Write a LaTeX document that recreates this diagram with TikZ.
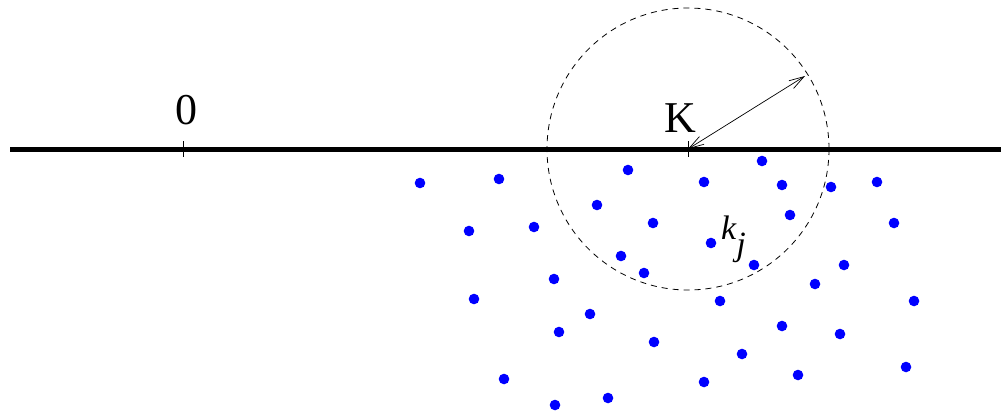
\documentclass[tikz,border=0pt]{standalone}
\usepackage{fontspec}
\setmainfont{Liberation Serif}
\usetikzlibrary{arrows.meta}

\begin{document}
\begin{tikzpicture}[x=1pt,y=-1pt,
    dot/.style={fill=blue},
    ball/.style={dash pattern=on 6pt off 5pt,line width=0.8pt},
    marker/.style={line width=0.9pt},
    biglabel/.style={font=\fontsize{44}{50}\selectfont,inner sep=0pt}]
  \useasboundingbox (0,0) rectangle (1001,413);
  \coordinate (origin) at (183,149);
  \coordinate (centre) at (688,149);
  \coordinate (rim) at (805,76);
  \draw[line width=5pt] (10,149) -- (1001,149);
  \draw[marker] (183,141) -- (183,157);
  \draw[marker] (688,141) -- (688,157);
  \node[biglabel] (zero) at (186,110) {0};
  \node[biglabel] (kay) at (680,118) {K};
  \draw[ball] (centre) circle (141);
  \draw[{Straight Barb[length=15pt,width=9pt]}-{Straight Barb[length=15pt,width=9pt]},line width=0.7pt]
    (centre) -- (rim);
  % sample points
  \foreach \x/\y in {420/183, 499/179, 628/170, 597/205, 469/231, 534/227, 653/223,
      621/256, 644/273, 554/279, 762/161, 704/182, 782/185, 831/187, 877/182,
      790/215, 894/223, 711/243, 754/265, 844/265, 474/299, 590/314, 559/332,
      654/342, 504/379, 555/405, 608/398, 815/284, 720/301, 914/301, 782/326,
      840/334, 742/354, 704/382, 798/375, 906/367}
    \fill[dot] (\x,\y) circle (5.3);
  \node[font=\fontsize{34}{40}\selectfont\itshape,inner sep=0pt,anchor=base west] (kj) at (721,239)
    {k\raisebox{-16.5pt}{j}};
\end{tikzpicture}
\end{document}
